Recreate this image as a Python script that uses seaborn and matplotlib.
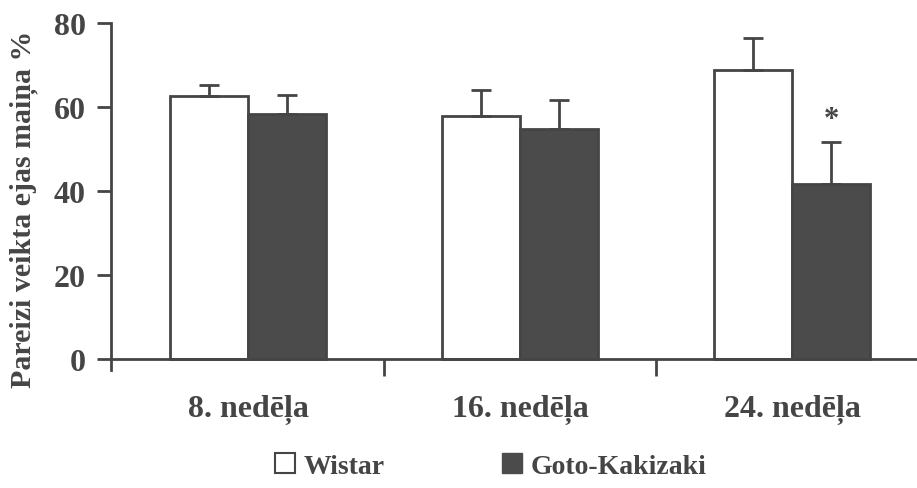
import matplotlib
matplotlib.use("Agg")
import matplotlib.pyplot as plt
from matplotlib.patches import Patch
import seaborn as sns
import pandas as pd

# Data
weeks = ["8. nedēļa", "16. nedēļa", "24. nedēļa"]
groups = ["Wistar", "Goto-Kakizaki"]
wistar_mean = [62.6, 57.8, 68.8]
wistar_err = [2.6, 6.3, 7.6]
gk_mean = [58.3, 54.8, 41.7]
gk_err = [4.6, 6.9, 10.0]
significant = [False, False, True]  # GK vs Wistar, per week

df = pd.DataFrame({
    "week": weeks * 2,
    "group": [groups[0]] * 3 + [groups[1]] * 3,
    "value": wistar_mean + gk_mean,
})

ink = "#454545"
dark_fill = "#4b4b4b"

sns.set_style("white")
plt.rcParams["font.family"] = ["Liberation Serif", "DejaVu Serif"]
plt.rcParams["font.weight"] = "bold"

fig = plt.figure(figsize=(9.17, 4.89), dpi=100)
ax = fig.add_axes([0.121, 0.241, 0.879, 0.710])

sns.barplot(
    data=df, x="week", y="value", hue="group", order=weeks, hue_order=groups,
    palette={groups[0]: "white", groups[1]: dark_fill},
    width=0.575, gap=0, errorbar=None, edgecolor=ink, linewidth=2,
    legend=False, ax=ax,
)

# Upper-only error bars on each bar
patches = [p for p in ax.patches if p.get_height() > 0]
patches.sort(key=lambda p: p.get_x())
errs = []
for w_e, g_e in zip(wistar_err, gk_err):
    errs += [w_e, g_e]
for p, e in zip(patches, errs):
    xc = p.get_x() + p.get_width() / 2
    top = p.get_height()
    ax.errorbar(xc, top, yerr=[[0], [e]], fmt="none", ecolor=ink,
                elinewidth=2, capsize=7, capthick=2, zorder=1)

# Significance markers above the GK bars
gk_patches = patches[1::2]
for p, e, sig in zip(gk_patches, gk_err, significant):
    if sig:
        ax.text(p.get_x() + p.get_width() / 2, p.get_height() + e + 1.8, "*",
                ha="center", va="bottom", fontsize=22, color=ink,
                fontweight="bold")

ax.set_ylim(-2.6, 80)
ax.set_xlim(-0.505, 2.46)
ax.set_yticks([0, 20, 40, 60, 80])
ax.set_xticks([0.5, 1.5], minor=True)
ax.set_xticks([0, 1, 2])
ax.set_xticklabels(weeks)

for s in ["top", "right"]:
    ax.spines[s].set_visible(False)
ax.spines["bottom"].set_position(("data", 0))
ax.spines["left"].set_bounds(-2.6, 80)
for s in ["left", "bottom"]:
    ax.spines[s].set_color(ink)
    ax.spines[s].set_linewidth(2)

ax.tick_params(axis="y", which="major", direction="out", length=10, width=2,
               color=ink, labelsize=23, labelcolor=ink, pad=8, left=True)
ax.tick_params(axis="x", which="major", length=0, labelsize=23,
               labelcolor=ink, pad=25)
ax.tick_params(axis="x", which="minor", direction="out", length=12, width=2,
               color=ink, bottom=True)

ax.set_xlabel("")
ax.set_ylabel("Pareizi veikta ejas maiņa %", fontsize=21.5, color=ink,
              fontweight="bold")
ax.yaxis.set_label_coords(-0.09, 0.465)

handles = [
    Patch(facecolor="white", edgecolor=ink, linewidth=1.5, label=groups[0]),
    Patch(facecolor=dark_fill, edgecolor=dark_fill, label=groups[1]),
]
fig.legend(handles=handles, loc="center", bbox_to_anchor=(0.535, 0.045), ncol=2,
           frameon=False, fontsize=20, labelcolor=ink, handlelength=0.75,
           handleheight=0.75, handletextpad=0.3, columnspacing=4.2)

fig.savefig("out.png", dpi=100)
